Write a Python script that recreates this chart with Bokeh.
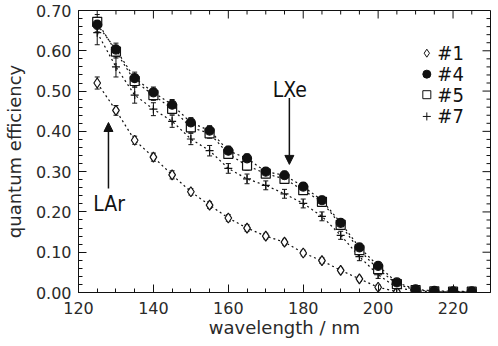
import math
from bokeh.plotting import figure
from bokeh.models import (Range1d, Whisker, ColumnDataSource, Arrow,
                          NormalHead, FixedTicker, PrintfTickFormatter)
from bokeh.core.properties import value
from bokeh.embed import file_html
from bokeh.resources import INLINE

# ---- data ----
wl_1 = [125, 130, 135, 140, 145, 150, 155, 160, 165, 170, 175, 180, 185, 190, 195, 200, 205]
qe_1 = [0.520, 0.452, 0.378, 0.336, 0.292, 0.250, 0.217, 0.185, 0.160, 0.140, 0.125, 0.098,
        0.079, 0.055, 0.034, 0.013, 0.002]
err_1 = [0.015, 0.012, 0.010, 0.010, 0.010, 0.008, 0.008, 0.008, 0.008, 0.007, 0.007, 0.007,
         0.007, 0.006, 0.006, 0.006, 0.004]

wl_all = [125, 130, 135, 140, 145, 150, 155, 160, 165, 170, 175, 180, 185, 190, 195, 200,
          205, 210, 215, 220, 225]
qe_4 = [0.665, 0.603, 0.532, 0.497, 0.466, 0.422, 0.402, 0.352, 0.333, 0.300, 0.291, 0.263,
        0.229, 0.173, 0.112, 0.066, 0.025, 0.008, 0.004, 0.003, 0.003]
err_4 = [0.018, 0.016, 0.015, 0.013, 0.013, 0.012, 0.012, 0.011, 0.011, 0.010, 0.010, 0.010,
         0.010, 0.009, 0.009, 0.008, 0.006, 0.004, 0.003, 0.003, 0.003]
qe_5 = [0.672, 0.598, 0.525, 0.490, 0.456, 0.410, 0.395, 0.344, 0.315, 0.295, 0.282, 0.254,
        0.225, 0.168, 0.105, 0.058, 0.021, 0.006, 0.003, 0.002, 0.002]
err_5 = [0.018, 0.016, 0.015, 0.013, 0.013, 0.012, 0.012, 0.011, 0.011, 0.010, 0.010, 0.010,
         0.010, 0.009, 0.009, 0.008, 0.006, 0.004, 0.003, 0.003, 0.003]
qe_7 = [0.645, 0.560, 0.490, 0.455, 0.425, 0.381, 0.352, 0.308, 0.282, 0.266, 0.245, 0.221,
        0.189, 0.142, 0.089, 0.044, 0.012, 0.004, 0.002, 0.001, 0.001]
err_7 = [0.030, 0.025, 0.020, 0.016, 0.015, 0.014, 0.013, 0.012, 0.012, 0.011, 0.011, 0.011,
         0.011, 0.010, 0.010, 0.009, 0.006, 0.004, 0.003, 0.003, 0.003]

legend_labels = ["#1", "#4", "#5", "#7"]
x_ticks = [120, 140, 160, 180, 200, 220]
x_minor = [125, 130, 135, 145, 150, 155, 165, 170, 175, 185, 190, 195, 205, 210, 215, 225]
y_ticks = [0.0, 0.1, 0.2, 0.3, 0.4, 0.5, 0.6, 0.7]
y_minor = [round(i * 0.02, 2) for i in range(0, 36) if i % 5 != 0]

X0, X1, Y0, Y1 = 120, 230, 0.0, 0.70
INK = "#111111"
FONT = "DejaVu Sans"
NARROW = "Liberation Sans Narrow, DejaVu Sans Condensed, Liberation Sans, sans-serif"

p = figure(width=492, height=340, output_backend="svg", toolbar_location=None,
           x_range=Range1d(X0, X1), y_range=Range1d(Y0, Y1),
           min_border_left=77, min_border_right=2, min_border_top=10, min_border_bottom=47)
p.grid.visible = False
p.outline_line_color = INK
p.outline_line_width = 1
p.background_fill_color = "white"
p.border_fill_color = "white"

for ax in (p.xaxis[0], p.yaxis[0]):
    ax.axis_line_color = INK
    ax.major_tick_line_color = INK
    ax.minor_tick_line_color = INK
    ax.major_tick_in = 8
    ax.major_tick_out = 0
    ax.minor_tick_in = 4
    ax.minor_tick_out = 0
    ax.major_label_text_font = FONT
    ax.major_label_text_font_size = "16px"
    ax.major_label_text_color = "#2a2a2a"
    ax.axis_label_text_font = FONT
    ax.axis_label_text_font_size = "18px"
    ax.axis_label_text_font_style = "normal"
    ax.axis_label_text_color = "#2a2a2a"

p.xaxis.ticker = FixedTicker(ticks=x_ticks, minor_ticks=x_minor)
p.yaxis.ticker = FixedTicker(ticks=y_ticks, minor_ticks=y_minor)
p.xaxis.axis_label = "wavelength / nm"
p.yaxis.axis_label = "quantum efficiency"
p.yaxis.formatter = PrintfTickFormatter(format="%.2f")
p.xaxis.major_label_standoff = 9
p.yaxis.major_label_standoff = 7
p.xaxis.axis_label_standoff = 0
p.yaxis.axis_label_standoff = 8

# mirrored inward ticks on the top and right edges of the frame
p.ray(x=x_ticks, y=[Y1] * len(x_ticks), length=8, angle=-math.pi / 2,
      length_units="screen", line_color=INK, line_width=1)
p.ray(x=x_minor, y=[Y1] * len(x_minor), length=4, angle=-math.pi / 2,
      length_units="screen", line_color=INK, line_width=1)
p.ray(x=[X1] * len(y_ticks), y=y_ticks, length=8, angle=math.pi,
      length_units="screen", line_color=INK, line_width=1)
p.ray(x=[X1] * len(y_minor), y=y_minor, length=4, angle=math.pi,
      length_units="screen", line_color=INK, line_width=1)

DOT = "2 3"


def add_series(xs, qe, err, marker, fill, size):
    src = ColumnDataSource(dict(x=xs, y=qe,
                                lo=[a - b for a, b in zip(qe, err)],
                                hi=[a + b for a, b in zip(qe, err)]))
    p.line("x", "y", source=src, line_dash=DOT, line_color=INK, line_width=1.2)
    w = Whisker(base="x", lower="lo", upper="hi", source=src, line_color=INK, line_width=1)
    w.upper_head.size = 5
    w.lower_head.size = 5
    w.upper_head.line_color = INK
    w.lower_head.line_color = INK
    p.add_layout(w)
    p.scatter("x", "y", source=src, marker=marker, size=size, fill_color=fill,
              line_color=INK, line_width=1.2)


add_series(wl_1, qe_1, err_1, "diamond", "white", 10)
add_series(wl_all, qe_7, err_7, "cross", None, 8)
add_series(wl_all, qe_5, err_5, "square", "white", 9)
add_series(wl_all, qe_4, err_4, "circle", INK, 9)

# arrows + annotations
p.add_layout(Arrow(end=NormalHead(size=9, fill_color=INK, line_color=INK),
                   x_start=176.3, y_start=0.483, x_end=176.3, y_end=0.318,
                   line_color=INK, line_width=1.5))
p.add_layout(Arrow(end=NormalHead(size=9, fill_color=INK, line_color=INK),
                   x_start=128.0, y_start=0.258, x_end=128.0, y_end=0.422,
                   line_color=INK, line_width=1.5))
p.text(x=[176.4], y=[0.503], text=["LXe"], text_font=value(NARROW), text_font_size="21px",
       text_align="center", text_baseline="middle", text_color=INK)
p.text(x=[128.2], y=[0.220], text=["LAr"], text_font=value(NARROW), text_font_size="21px",
       text_align="center", text_baseline="middle", text_color=INK)

# legend (drawn manually)
leg_x = 213.0
leg_y = [0.594, 0.542, 0.491, 0.437]
p.scatter(x=[leg_x], y=[leg_y[0]], marker="diamond", size=8, fill_color="white", line_color=INK)
p.scatter(x=[leg_x], y=[leg_y[1]], marker="circle", size=8, fill_color=INK, line_color=INK)
p.scatter(x=[leg_x], y=[leg_y[2]], marker="square", size=8, fill_color="white", line_color=INK)
p.scatter(x=[leg_x], y=[leg_y[3]], marker="cross", size=8, line_color=INK)
p.text(x=[leg_x + 2.8] * 4, y=leg_y, text=legend_labels, text_font=value(NARROW),
       text_font_size="20px", text_align="left", text_baseline="middle", text_color=INK)

open("out.html", "w").write(file_html(p, INLINE))
